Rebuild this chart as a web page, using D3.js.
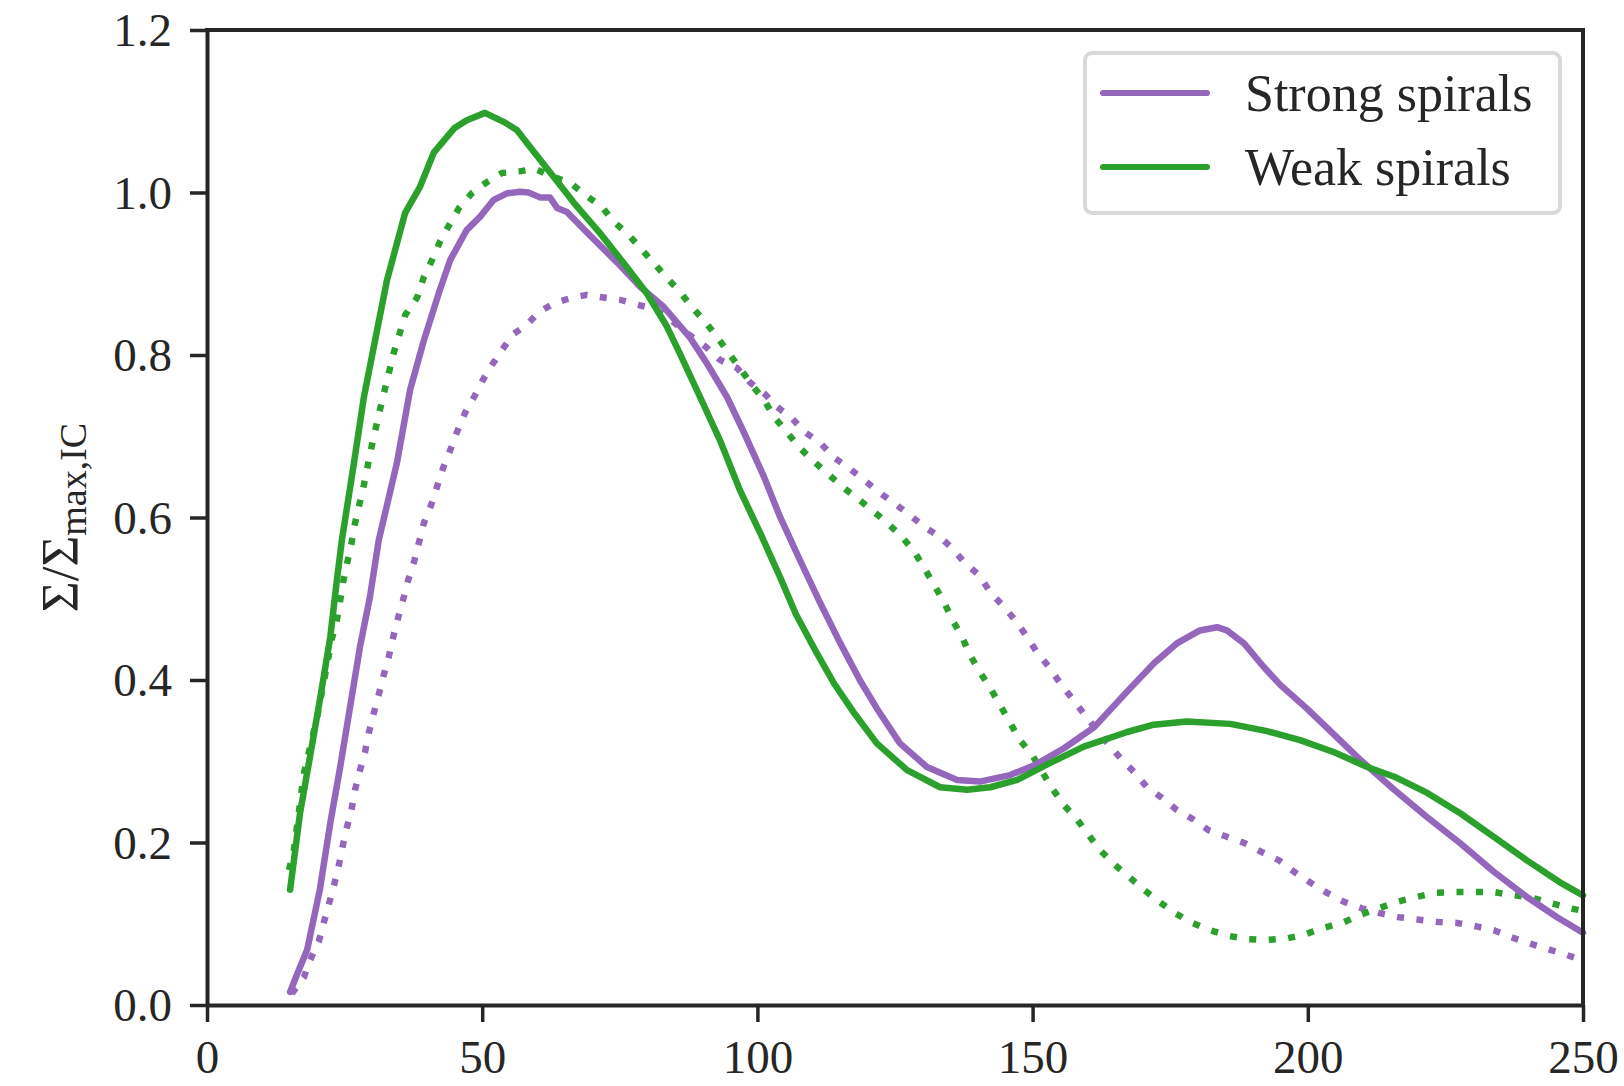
<!DOCTYPE html>
<html>
<head>
<meta charset="utf-8">
<script src="https://cdn.jsdelivr.net/npm/d3@7.9.0/dist/d3.min.js"></script>
<style>
  body { margin: 0; background: #fff; }
  text { font-family: "Liberation Serif", "DejaVu Serif", serif; fill: #262626; }
</style>
</head>
<body>
<svg id="chart" width="1624" height="1086"></svg>
<script>
// radius vs normalised surface density
const strongSolid = [
  [15.1,0.016],[16.5,0.04],[18.2,0.068],[20.5,0.142],[22.4,0.224],[24.2,0.293],[26.0,0.367],
  [27.8,0.441],[29.6,0.502],[31.2,0.572],[34.5,0.667],[36.9,0.757],[39.4,0.818],[42.3,0.880],
  [44.2,0.917],[47.2,0.954],[49.6,0.970],[52.1,0.991],[54.5,0.999],[56.9,1.001],[58.4,1.0],
  [60.5,0.994],[62.3,0.994],[63.6,0.981],[65.4,0.976],[69.0,0.951],[74.5,0.914],[78.7,0.884],
  [83.0,0.859],[87.8,0.821],[90.8,0.790],[94.5,0.748],[97.6,0.704],[101.2,0.650],[104.1,0.601],
  [107.7,0.548],[111.4,0.495],[115.0,0.446],[118.6,0.400],[121.7,0.365],[125.9,0.322],
  [130.8,0.293],[136.3,0.277],[140.4,0.275],[145.9,0.283],[150.3,0.295],[155.7,0.316],
  [161.2,0.342],[167.2,0.386],[172.1,0.421],[176.2,0.445],[180.4,0.461],[183.5,0.465],
  [185.3,0.461],[188.4,0.445],[192.0,0.416],[195.0,0.394],[199.8,0.365],[203.5,0.341],
  [209.5,0.302],[215.7,0.265],[221.7,0.231],[227.7,0.199],[233.8,0.164],[239.8,0.133],
  [245.3,0.108],[250,0.089]
];

const strongDotted = [
  [15.4,0.014],[17.6,0.034],[18.7,0.055],[20.3,0.078],[21.2,0.101],[22.1,0.123],[23.1,0.148],
  [23.9,0.170],[24.6,0.194],[25.4,0.218],[26.3,0.242],[26.9,0.265],[27.8,0.289],[28.7,0.311],
  [29.4,0.335],[30.3,0.359],[31.2,0.382],[32.1,0.406],[33.0,0.428],[33.8,0.452],[34.7,0.476],
  [35.6,0.498],[36.5,0.522],[37.6,0.545],[38.5,0.569],[39.4,0.593],[40.7,0.615],[41.8,0.638],
  [42.9,0.661],[44.2,0.683],[45.4,0.705],[46.9,0.729],[48.5,0.748],[50.1,0.769],[51.9,0.789],
  [53.9,0.809],[55.7,0.826],[58.1,0.837],[60.3,0.853],[63.2,0.864],[66.0,0.870],[69.0,0.874],
  [71.8,0.871],[75.0,0.868],[78.1,0.862],[81.2,0.857],[84.0,0.845],[87.0,0.828],[90.8,0.809],
  [93.2,0.794],[96.3,0.784],[98.7,0.766],[101.2,0.753],[103.6,0.736],[106.3,0.722],[108.6,0.705],
  [111.4,0.692],[113.9,0.674],[116.6,0.661],[119.4,0.646],[122.1,0.631],[124.8,0.618],
  [127.7,0.603],[130.4,0.588],[133.2,0.576],[135.4,0.562],[137.7,0.544],[140.3,0.529],
  [142.3,0.508],[144.8,0.490],[146.8,0.474],[149.0,0.453],[150.8,0.434],[153.0,0.416],
  [155.0,0.396],[157.2,0.377],[159.5,0.357],[161.7,0.338],[163.9,0.320],[166.2,0.302],
  [168.4,0.287],[170.8,0.268],[173.5,0.255],[176.2,0.240],[179.3,0.228],[182.0,0.215],
  [185.3,0.207],[188.6,0.199],[191.7,0.188],[194.8,0.178],[197.5,0.164],[200.4,0.151],
  [203.5,0.138],[206.6,0.127],[209.8,0.119],[213.1,0.113],[216.6,0.108],[220.2,0.105],
  [223.8,0.102],[227.1,0.101],[230.4,0.097],[233.8,0.092],[236.7,0.084],[240.2,0.076],
  [243.5,0.069],[246.8,0.062],[250,0.055]
];

const weakSolid = [
  [15.1,0.142],[16.9,0.236],[18.7,0.305],[20.5,0.375],[22.4,0.453],[23.6,0.523],[24.5,0.572],
  [26.7,0.667],[28.5,0.748],[30.3,0.810],[32.7,0.892],[36.0,0.975],[38.7,1.007],[41.2,1.049],
  [44.9,1.079],[47.2,1.089],[50.5,1.098],[53.9,1.087],[56.3,1.077],[58.7,1.056],[63.0,1.019],
  [66.7,0.987],[71.4,0.950],[76.3,0.908],[79.9,0.876],[83.4,0.837],[85.9,0.802],[89.6,0.748],
  [93.2,0.695],[96.8,0.634],[100.5,0.581],[104.1,0.527],[107.0,0.481],[110.8,0.433],
  [113.9,0.396],[117.4,0.361],[121.7,0.322],[127.2,0.289],[133.2,0.268],[138.1,0.265],
  [142.3,0.268],[147.2,0.277],[153.2,0.298],[159.3,0.318],[167.2,0.336],[172.0,0.345],
  [178.0,0.349],[185.9,0.346],[192.6,0.337],[198.6,0.326],[204.8,0.311],[210.8,0.293],
  [215.7,0.281],[221.7,0.261],[227.7,0.236],[233.8,0.207],[239.8,0.178],[245.8,0.151],
  [250,0.135]
];

const weakDotted = [
  [14.9,0.166],[15.8,0.191],[17.6,0.285],[20.0,0.354],[21.4,0.404],[22.7,0.451],[23.6,0.474],
  [24.2,0.498],[24.8,0.523],[25.5,0.545],[26.3,0.570],[26.9,0.593],[28.5,0.640],[29.9,0.687],
  [31.4,0.732],[33.9,0.802],[36.0,0.849],[38.2,0.871],[39.4,0.896],[40.9,0.917],[42.3,0.939],
  [44.0,0.960],[45.8,0.981],[48.1,0.999],[50.9,1.013],[53.6,1.024],[56.7,1.026],[59.6,1.029],
  [63.0,1.019],[66.0,1.012],[68.7,0.997],[71.8,0.982],[73.9,0.964],[76.3,0.950],[78.7,0.932],
  [81.2,0.913],[83.4,0.896],[85.9,0.878],[88.1,0.859],[90.5,0.841],[92.7,0.822],[94.8,0.802],
  [96.8,0.784],[99.0,0.763],[101.2,0.745],[103.0,0.724],[105.4,0.705],[107.5,0.687],
  [109.9,0.671],[112.6,0.655],[115.4,0.638],[118.1,0.624],[120.8,0.609],[123.5,0.594],
  [126.3,0.576],[128.5,0.558],[130.3,0.538],[132.1,0.517],[133.9,0.496],[135.4,0.474],
  [137.2,0.453],[138.6,0.431],[140.4,0.410],[142.3,0.390],[144.1,0.369],[147.7,0.326],
  [149.9,0.308],[153.5,0.267],[155.7,0.246],[158.1,0.228],[160.2,0.209],[162.2,0.191],
  [165.0,0.172],[167.3,0.159],[170.2,0.142],[173.0,0.127],[175.9,0.113],[179.0,0.101],
  [182.2,0.092],[185.7,0.085],[189.3,0.081],[192.6,0.080],[196.2,0.082],[199.5,0.087],
  [202.9,0.095],[206.6,0.102],[209.5,0.111],[212.9,0.119],[216.2,0.127],[219.8,0.133],
  [223.1,0.138],[226.7,0.139],[230.4,0.139],[233.8,0.139],[237.5,0.135],[240.7,0.132],
  [244.4,0.125],[247.6,0.119],[250,0.116]
];

const xTicks = [0, 50, 100, 150, 200, 250];
const yTicks = [0, 0.2, 0.4, 0.6, 0.8, 1.0, 1.2];
const legendLabels = ["Strong spirals", "Weak spirals"];

const purple = "#9467bd";
const green = "#2ca02c";
const axisColor = "#262626";

const margin = { top: 30, right: 41, bottom: 81, left: 207 };
const width = 1624, height = 1086;

const svg = d3.select("#chart");

const x = d3.scaleLinear().domain([0, 250]).range([margin.left, width - margin.right]);
const y = d3.scaleLinear().domain([0, 1.2]).range([height - margin.bottom, margin.top]);

const line = d3.line()
  .x(d => x(d[0]))
  .y(d => y(d[1]));

const series = [
  { data: strongDotted, color: purple, dotted: true },
  { data: weakDotted, color: green, dotted: true },
  { data: strongSolid, color: purple, dotted: false },
  { data: weakSolid, color: green, dotted: false }
];

const plot = svg.append("g");

series.forEach(s => {
  plot.append("path")
    .datum(s.data)
    .attr("fill", "none")
    .attr("stroke", s.color)
    .attr("stroke-width", 6.5)
    .attr("stroke-linejoin", "round")
    .attr("stroke-linecap", s.dotted ? "butt" : "round")
    .attr("stroke-dasharray", s.dotted ? "7 12.5" : null)
    .attr("d", line);
});

// axes
const xAxis = svg.append("g")
  .attr("transform", `translate(0,${y(0)})`)
  .call(d3.axisBottom(x).tickValues(xTicks).tickFormat(d3.format("d")).tickSize(17).tickSizeOuter(0));

xAxis.selectAll("text")
  .attr("dy", null)
  .attr("y", 68)
  .attr("font-size", "47px");

const yAxis = svg.append("g")
  .attr("transform", `translate(${x(0)},0)`)
  .call(d3.axisLeft(y).tickValues(yTicks).tickFormat(d3.format(".1f")).tickSize(17).tickPadding(18).tickSizeOuter(0));

yAxis.selectAll("text")
  .attr("dy", "0.34em")
  .attr("font-size", "47px");

[xAxis, yAxis].forEach(g => {
  g.select(".domain").attr("stroke", axisColor).attr("stroke-width", 4);
  g.selectAll(".tick line").attr("stroke", axisColor).attr("stroke-width", 3.5);
  g.selectAll("text").attr("fill", axisColor).attr("font-family", "Liberation Serif");
});

// top and right spines
svg.append("line")
  .attr("x1", x(0)).attr("x2", x(250))
  .attr("y1", y(1.2)).attr("y2", y(1.2))
  .attr("stroke", axisColor).attr("stroke-width", 4).attr("stroke-linecap", "square");
svg.append("line")
  .attr("x1", x(250)).attr("x2", x(250))
  .attr("y1", y(1.2)).attr("y2", y(0))
  .attr("stroke", axisColor).attr("stroke-width", 4).attr("stroke-linecap", "square");

// y label
const yLabel = svg.append("text")
  .attr("transform", `translate(78,${(y(0) + y(1.2)) / 2}) rotate(-90)`)
  .attr("text-anchor", "middle")
  .attr("font-size", "53px");
yLabel.append("tspan").text("Σ/Σ");
yLabel.append("tspan").attr("dy", "8").attr("font-size", "38px").text("max,IC");

// legend
const legend = svg.append("g");
legend.append("rect")
  .attr("x", 1085).attr("y", 53)
  .attr("width", 475).attr("height", 160)
  .attr("rx", 7)
  .attr("fill", "#fff")
  .attr("stroke", "#d9d9d9")
  .attr("stroke-width", 4);

const legendColors = [purple, green];
legendLabels.forEach((label, i) => {
  const ly = 93 + i * 74;
  legend.append("line")
    .attr("x1", 1103).attr("x2", 1207)
    .attr("y1", ly).attr("y2", ly)
    .attr("stroke", legendColors[i])
    .attr("stroke-width", 6)
    .attr("stroke-linecap", "round");
  legend.append("text")
    .attr("x", 1245).attr("y", ly + 18)
    .attr("font-size", "52px")
    .text(label);
});
</script>
</body>
</html>
